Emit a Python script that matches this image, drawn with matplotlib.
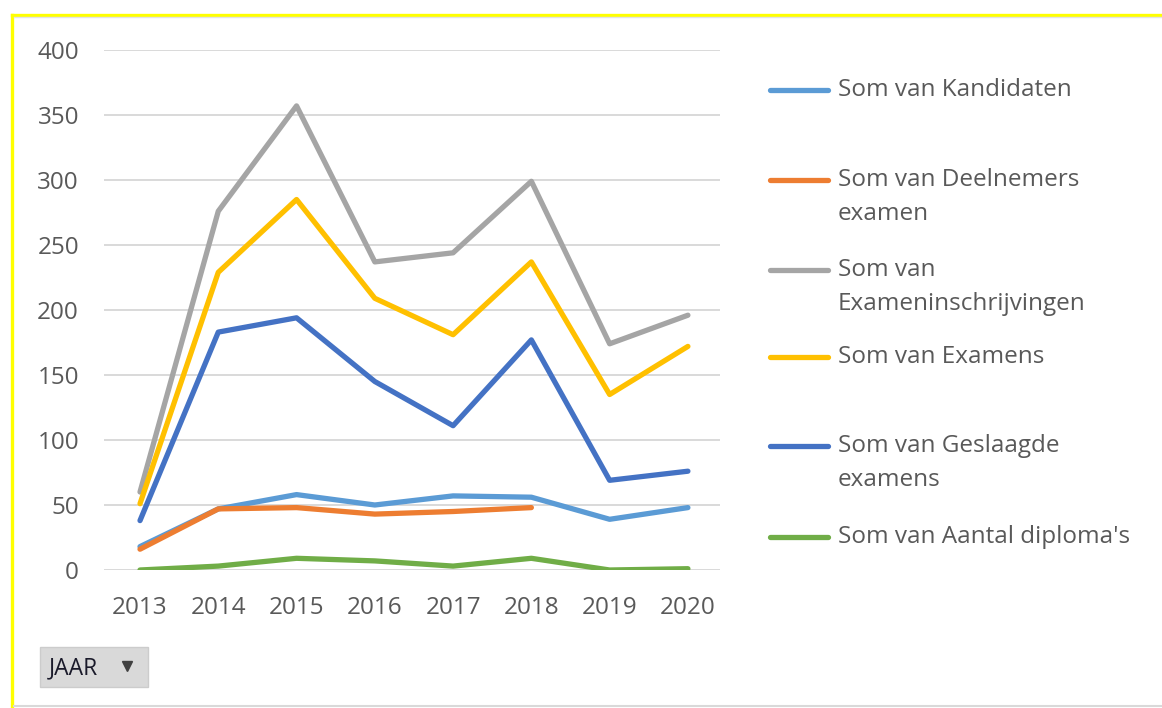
import numpy as np
import matplotlib
matplotlib.use("Agg")
import matplotlib.pyplot as plt
from matplotlib.lines import Line2D
from matplotlib.patches import Rectangle

OUTPUT_IMAGE = "out.png"

years = ["2013", "2014", "2015", "2016", "2017", "2018", "2019", "2020"]

kandidaten = [18, 47, 58, 50, 57, 56, 39, 48]
deelnemers = [16, 47, 48, 43, 45, 48, np.nan, np.nan]
inschrijvingen = [60, 276, 357, 237, 244, 299, 174, 196]
examens = [51, 229, 285, 209, 181, 237, 135, 172]
geslaagd = [38, 183, 194, 145, 111, 177, 69, 76]
diplomas = [0, 3, 9, 7, 3, 9, 0, 1]

series_names = [
    "Som van Kandidaten",
    "Som van Deelnemers examen",
    "Som van Examenschrijvingen",
    "Som van Examens",
    "Som van Geslaagde examens",
    "Som van Aantal diploma's",
]
legend_labels = [
    "Som van Kandidaten",
    "Som van Deelnemers\nexamen",
    "Som van\nExameninschrijvingen",
    "Som van Examens",
    "Som van Geslaagde\nexamens",
    "Som van Aantal diploma's",
]
colors = ["#5B9BD5", "#ED7D31", "#A5A5A5", "#FFC000", "#4472C4", "#70AD47"]
yticks = [0, 50, 100, 150, 200, 250, 300, 350, 400]

W, H = 1162, 708
TEXT = "#595959"
FS = 17.5
plt.rcParams["font.family"] = ["Open Sans", "DejaVu Sans"]


def fx(px):
    return px / W


def fy(py):
    return 1 - py / H


def main():
    fig = plt.figure(figsize=(W / 100, H / 100), dpi=100, facecolor="white")

    # plot area in pixel terms of the reference
    ax = fig.add_axes([fx(104), fy(570), fx(720) - fx(104), fy(50) - fy(570)])
    ax.set_facecolor("white")

    data = [kandidaten, deelnemers, inschrijvingen, examens, geslaagd, diplomas]
    x = np.arange(len(years))
    for vals, col, name in zip(data, colors, series_names):
        ax.plot(x, vals, color=col, linewidth=3.8, label=name,
                solid_capstyle="round", solid_joinstyle="round", zorder=3)

    ax.set_ylim(0, 400)
    ax.set_xlim(-0.46, 7.41)
    ax.set_yticks(yticks)
    ax.set_xticks(x)
    ax.set_xticklabels(years)
    ax.grid(axis="y", color="#d9d9d9", linewidth=1.4, zorder=0)
    ax.set_axisbelow(True)
    for s in ax.spines.values():
        s.set_visible(False)
    ax.tick_params(axis="both", length=0, labelsize=FS, labelcolor=TEXT)
    ax.tick_params(axis="y", pad=18)
    ax.tick_params(axis="x", pad=18.5)

    # legend drawn by hand, Excel style (handle aligned to first text line)
    leg_y = [88, 178, 268, 355, 444, 535]
    for lab, col, py in zip(legend_labels, colors, leg_y):
        fig.add_artist(Line2D([fx(770), fx(828)], [fy(py + 2), fy(py + 2)],
                              color=col, linewidth=3.8, solid_capstyle="round"))
        fig.text(fx(838), fy(py - 10), lab, ha="left", va="top",
                 fontsize=FS, color=TEXT, linespacing=1.55)

    # JAAR field button
    fig.add_artist(Rectangle((fx(40), fy(687)), fx(148) - fx(40), fy(647) - fy(687),
                             facecolor="#d9d9d9", edgecolor="#cccccc", linewidth=1))
    fig.text(fx(49), fy(668), "JAAR", ha="left", va="center",
             fontsize=16.5, color="#1a1a2a")
    fig.add_artist(Line2D([fx(127)], [fy(666)], marker="v", markersize=7,
                          color="#404040", linestyle="none"))

    # frame: yellow selection border and thin gray outline
    fig.add_artist(Line2D([fx(11.5), fx(W + 5)], [fy(14.5), fy(14.5)],
                          color="#FFFF00", linewidth=2.4))
    fig.add_artist(Line2D([fx(11.5), fx(11.5)], [fy(14.5), fy(H + 5)],
                          color="#FFFF00", linewidth=2.4))
    fig.add_artist(Line2D([fx(14), fx(W + 5)], [fy(17), fy(17)],
                          color="#e3e3e3", linewidth=1))
    fig.add_artist(Line2D([fx(14), fx(W + 5)], [fy(706), fy(706)],
                          color="#d9d9d9", linewidth=1.5))

    fig.savefig(OUTPUT_IMAGE, dpi=100, facecolor="white")


if __name__ == "__main__":
    main()
